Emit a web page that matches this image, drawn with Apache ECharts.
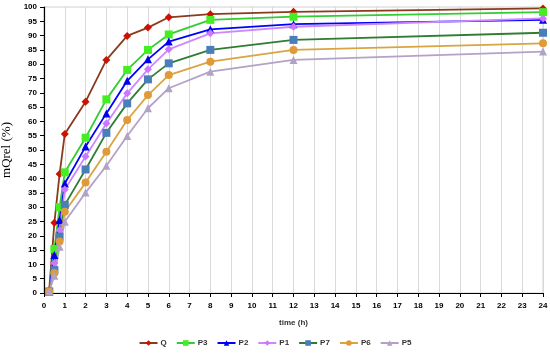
<!DOCTYPE html>
<html><head><meta charset="utf-8">
<script src="https://cdn.jsdelivr.net/npm/echarts@6/dist/echarts.min.js"></script>
<style>html,body{margin:0;padding:0;background:#fff}#c{width:550px;height:358px}</style>
</head><body><div id="c"></div>
<script>
const time = [0.25, 0.5, 0.75, 1, 2, 3, 4, 5, 6, 8, 12, 24];
const Q  = [1, 24.6, 41.6, 55.6, 66.9, 81.5, 89.9, 92.8, 96.4, 97.5, 98.3, 99.5];
const P3 = [0.5, 15.4, 30, 42.2, 54.3, 67.7, 78, 85, 90.4, 95.5, 96.6, 98.2];
const P2 = [0.5, 13.3, 25.5, 38.3, 51.2, 62.8, 74.2, 81.7, 87.9, 92.2, 94, 95.5];
const P1 = [0.5, 10.5, 22, 36.2, 47.7, 59.3, 69.8, 78.2, 85.2, 90.8, 93.1, 96];
const P7 = [0.5, 8, 19.7, 30.8, 43.2, 56, 66.3, 74.7, 80.3, 85, 88.5, 91];
const P6 = [0.5, 7, 18, 28.4, 38.6, 49.4, 60.5, 69.2, 76.2, 80.9, 85, 87.3];
const P5 = [0.5, 6, 16.2, 24.9, 35.1, 44.5, 54.9, 64.6, 71.6, 77.4, 81.5, 84.4];
const seriesNames = ['Q', 'P3', 'P2', 'P1', 'P7', 'P6', 'P5'];
const seriesValues = [Q, P3, P2, P1, P7, P6, P5];

const styles = [
  {line: '#8B3A1E', mark: '#CC1100', sym: 'diamond', size: 8},
  {line: '#33CC33', mark: '#44EE22', sym: 'rect', size: 8},
  {line: '#0000FF', mark: '#0000EE', sym: 'triangle', size: 8},
  {line: '#CC88FF', mark: '#CC77FF', sym: 'diamond', size: 8},
  {line: '#2E7D32', mark: '#4A7EBB', sym: 'rect', size: 8},
  {line: '#D9A441', mark: '#E09A38', sym: 'circle', size: 8},
  {line: '#B3A2C7', mark: '#B3A2C7', sym: 'triangle', size: 8}
];

const chart = echarts.init(document.getElementById('c'));
const axisFont = {fontFamily: 'Liberation Sans', fontSize: 8, fontWeight: 'bold', color: '#000'};
chart.setOption({
  animation: false,
  grid: {left: 44, right: 7, top: 7, bottom: 65, outerBoundsMode: 'none', containLabel: false,
         show: true, borderColor: '#d0d0d0', borderWidth: 1},
  legend: {
    bottom: 6, left: 'center', itemWidth: 18, itemHeight: 7, itemGap: 9,
    textStyle: {fontFamily: 'Liberation Sans', fontSize: 8, fontWeight: 'bold', color: '#333', padding: [0, 0, 0, -2]},
    data: seriesNames
  },
  xAxis: {
    type: 'value', min: 0, max: 24, interval: 1,
    name: 'time (h)', nameLocation: 'middle', nameGap: 26,
    nameTextStyle: {fontFamily: 'Liberation Sans', fontSize: 8, fontWeight: 'bold', color: '#333'},
    axisLine: {show: true, lineStyle: {color: '#000', width: 1.2}},
    axisTick: {show: true, length: 4, lineStyle: {color: '#000'}},
    axisLabel: Object.assign({margin: 9}, axisFont),
    splitLine: {show: true, lineStyle: {color: '#d9d9d9', width: 1}}
  },
  yAxis: {
    type: 'value', min: 0, max: 100, interval: 5,
    name: 'mQrel (%)', nameLocation: 'middle', nameGap: 30, nameRotate: 90,
    nameTextStyle: {fontFamily: 'Liberation Serif', fontSize: 13, color: '#000'},
    axisLine: {show: true, lineStyle: {color: '#000', width: 1.2}},
    axisTick: {show: true, length: 4, lineStyle: {color: '#000'}},
    axisLabel: Object.assign({margin: 7}, axisFont),
    splitLine: {show: false}
  },
  series: seriesNames.map((n, i) => ({
    name: n, type: 'line',
    data: time.map((t, k) => [t, seriesValues[i][k]]),
    symbol: styles[i].sym, symbolSize: styles[i].size,
    showAllSymbol: true,
    lineStyle: {color: styles[i].line, width: 1.8},
    itemStyle: {color: styles[i].mark, borderWidth: 0},
    emphasis: {disabled: true}
  }))
});
</script></body></html>
